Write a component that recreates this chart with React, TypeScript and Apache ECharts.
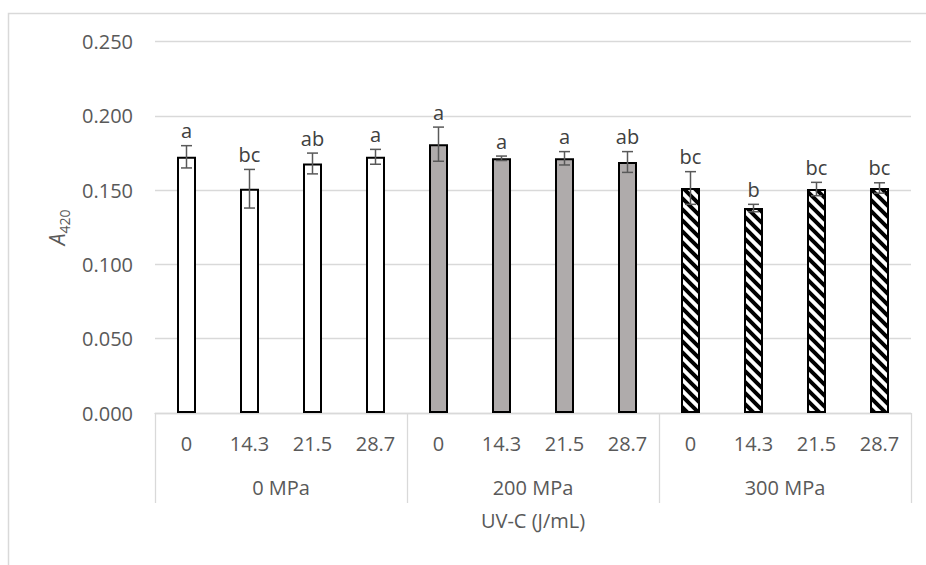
import React, { useEffect, useRef } from "react";
import * as echarts from "echarts";

const uvDoses = ["0", "14.3", "21.5", "28.7", "0", "14.3", "21.5", "28.7", "0", "14.3", "21.5", "28.7"];
const pressures = ["0 MPa", "200 MPa", "300 MPa"];
const means = [0.1725, 0.151, 0.168, 0.1725, 0.181, 0.1715, 0.1715, 0.169, 0.1515, 0.138, 0.1508, 0.1515];
const errors = [0.0075, 0.013, 0.007, 0.005, 0.0115, 0.0015, 0.0045, 0.007, 0.011, 0.0025, 0.0045, 0.0035];
const letters = ["a", "bc", "ab", "a", "a", "a", "a", "ab", "bc", "b", "bc", "bc"];
const yTicks = { min: 0, max: 0.25, interval: 0.05 };

const FONT = "Open Sans";
const GRID_LINE = "#d9d9d9";
const LABEL = "#595959";

const stripeSvg =
  '<svg xmlns="http://www.w3.org/2000/svg" width="11" height="11">' +
  '<rect width="11" height="11" fill="#ffffff"/>' +
  '<path d="M-1,-1 L12,12 M-6.5,4.5 L6.5,17.5 M4.5,-6.5 L17.5,6.5" stroke="#000000" stroke-width="4"/>' +
  "</svg>";

export default function App() {
  const ref = useRef<HTMLDivElement>(null);

  useEffect(() => {
    if (!ref.current) return;
    const chart = echarts.init(ref.current, null, { renderer: "svg" });

    const hatch: any = {
      image: "data:image/svg+xml;charset=utf-8," + encodeURIComponent(stripeSvg),
      repeat: "repeat",
      imageWidth: 11,
      imageHeight: 11,
    };
    const groupFills = ["#ffffff", "#afabab", hatch];

    const option: any = {
      animation: false,
      backgroundColor: "#ffffff",
      textStyle: { fontFamily: FONT },
      graphic: [
        {
          type: "rect",
          shape: { x: 8.5, y: 13.5, width: 1200, height: 1200 },
          style: { fill: "none", stroke: GRID_LINE, lineWidth: 1.5 },
          silent: true,
          z: -10,
        },
      ],
      grid: { left: 155, right: 15, top: 41.7, bottom: 152, containLabel: false },
      xAxis: [
        {
          type: "category",
          data: uvDoses,
          position: "bottom",
          axisLine: { show: true, lineStyle: { color: GRID_LINE, width: 1.3 } },
          axisTick: { show: false },
          axisLabel: { margin: 20, color: LABEL, fontSize: 20, fontFamily: FONT, interval: 0 },
          splitLine: { show: false },
        },
        {
          type: "category",
          data: pressures,
          position: "bottom",
          axisLine: { show: false },
          axisTick: { show: true, length: 90, lineStyle: { color: GRID_LINE, width: 1.3 } },
          axisLabel: { margin: 64, color: LABEL, fontSize: 20, fontFamily: FONT, interval: 0 },
          splitLine: { show: false },
          name: "UV-C (J/mL)",
          nameLocation: "middle",
          nameGap: 97,
          nameTextStyle: { color: LABEL, fontSize: 20, fontFamily: FONT },
        },
      ],
      yAxis: {
        type: "value",
        min: yTicks.min,
        max: yTicks.max,
        interval: yTicks.interval,
        axisLine: { show: false },
        axisTick: { show: false },
        axisLabel: {
          margin: 22,
          color: LABEL,
          fontSize: 20,
          fontFamily: FONT,
          formatter: (v: number) => v.toFixed(3),
        },
        splitLine: { show: true, lineStyle: { color: GRID_LINE, width: 1.3 } },
        name: "{i|A}{s|420}",
        nameLocation: "middle",
        nameRotate: 90,
        nameGap: 82,
        nameTextStyle: {
          color: LABEL,
          rich: {
            i: { fontStyle: "italic", fontSize: 21, fontFamily: FONT, color: LABEL, lineHeight: 28 },
            s: { fontSize: 14, fontFamily: FONT, color: LABEL, verticalAlign: "bottom", lineHeight: 14 },
          },
        },
      },
      series: [
        {
          type: "bar",
          xAxisIndex: 0,
          barWidth: 19,
          data: means.map((m, i) => ({
            value: m,
            itemStyle: { color: groupFills[Math.floor(i / 4)] },
          })),
          itemStyle: { borderColor: "#000000", borderWidth: 2 },
          z: 2,
        },
        {
          type: "custom",
          xAxisIndex: 0,
          data: means.map((m, i) => [i, m, errors[i]]),
          z: 5,
          renderItem: (params: any, api: any) => {
            const idx = params.dataIndex;
            const xi = api.value(0);
            const m = api.value(1);
            const e = api.value(2);
            const top = api.coord([xi, m + e]);
            const bot = api.coord([xi, m - e]);
            const cap = 5.5;
            const st = { stroke: "#595959", lineWidth: 1.5 };
            return {
              type: "group",
              children: [
                { type: "line", shape: { x1: top[0], y1: top[1], x2: bot[0], y2: bot[1] }, style: st },
                { type: "line", shape: { x1: top[0] - cap, y1: top[1], x2: top[0] + cap, y2: top[1] }, style: st },
                { type: "line", shape: { x1: bot[0] - cap, y1: bot[1], x2: bot[0] + cap, y2: bot[1] }, style: st },
                {
                  type: "text",
                  x: top[0],
                  y: top[1] - 15,
                  style: {
                    text: letters[idx],
                    textAlign: "center",
                    textVerticalAlign: "middle",
                    fontSize: 20,
                    fontFamily: FONT,
                    fill: "#404040",
                  },
                },
              ],
            };
          },
        },
      ],
    };

    chart.setOption(option);
    return () => chart.dispose();
  }, []);

  return (
    <div
      ref={ref}
      style={{ position: "fixed", left: 0, top: 0, width: 926, height: 565, background: "#fff" }}
    />
  );
}
